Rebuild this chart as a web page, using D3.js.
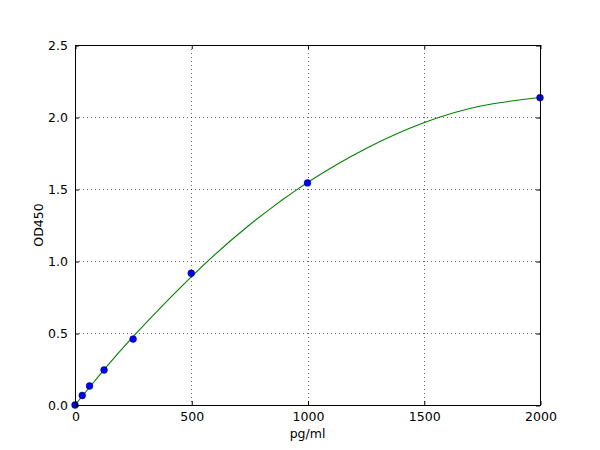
<!DOCTYPE html>
<html><head><meta charset="utf-8">
<script src="https://cdn.jsdelivr.net/npm/d3@7"></script>
<style>body{margin:0;background:#fff}text{font-family:"DejaVu Sans",sans-serif;}</style>
</head><body>
<svg id="c" width="600" height="450"></svg>
<script>
// Standard points
const concentrations = [0, 31.25, 62.5, 125, 250, 500, 1000, 2000];
const odValues = [0.0, 0.066, 0.132, 0.243, 0.458, 0.915, 1.542, 2.134];
// Fitted curve
const curveX = [0, 125, 250, 500, 750, 1000, 1250, 1500, 1750, 2000];
const curveY = [0.0, 0.245, 0.475, 0.89, 1.25, 1.545, 1.78, 1.96, 2.078, 2.135];
const xTicks = [0, 500, 1000, 1500, 2000];
const yTicks = [0.0, 0.5, 1.0, 1.5, 2.0, 2.5];

const svg = d3.select("#c");
const L = 75, R = 540, T = 45, B = 405;
const x = d3.scaleLinear().domain([0, 2000]).range([L, R]);
const y = d3.scaleLinear().domain([0, 2.5]).range([B, T]);

// grid (interior only; the frame covers the edges)
const grid = svg.append("g");
grid.selectAll(".gx").data(xTicks.slice(1, -1)).join("line")
  .attr("x1", d => Math.round(x(d)) + 0.5).attr("x2", d => Math.round(x(d)) + 0.5).attr("y1", T).attr("y2", B)
  .attr("stroke", "#000").attr("stroke-width", 0.6).attr("stroke-dasharray", "1,3");
grid.selectAll(".gy").data(yTicks.slice(1, -1)).join("line")
  .attr("y1", d => Math.round(y(d)) + 0.5).attr("y2", d => Math.round(y(d)) + 0.5).attr("x1", L).attr("x2", R)
  .attr("stroke", "#000").attr("stroke-width", 0.6).attr("stroke-dasharray", "1,3");

// curve
const line = d3.line().x(d => x(d[0])).y(d => y(d[1])).curve(d3.curveNatural);
svg.append("path").datum(curveX.map((v, i) => [v, curveY[i]]))
  .attr("d", line).attr("fill", "none").attr("stroke", "#008000").attr("stroke-width", 1.1);

// points
svg.append("g").selectAll("circle").data(concentrations).join("circle")
  .attr("cx", d => x(d)).attr("cy", (d, i) => y(odValues[i])).attr("r", 3.4)
  .attr("fill", "#0000ff").attr("stroke", "#000033").attr("stroke-width", 0.5);

// axes with inward ticks
const ax = svg.append("g");
ax.append("g").attr("transform", `translate(0.5,${B})`)
  .call(d3.axisBottom(x).tickValues(xTicks).tickSize(-4).tickPadding(7).tickFormat(d3.format("d")));
ax.append("g").attr("transform", `translate(0.5,${T})`)
  .call(d3.axisTop(x).tickValues(xTicks).tickSize(-4).tickFormat(""));
ax.append("g").attr("transform", `translate(${L},0.5)`)
  .call(d3.axisLeft(y).tickValues(yTicks).tickSize(-4).tickPadding(7).tickFormat(d3.format(".1f")));
ax.append("g").attr("transform", `translate(${R},0.5)`)
  .call(d3.axisRight(y).tickValues(yTicks).tickSize(-4).tickFormat(""));
ax.selectAll(".domain").remove();
ax.selectAll("text").attr("font-size", 12.5).attr("fill", "#000").attr("font-family", "DejaVu Sans");
ax.selectAll(".tick line").attr("stroke", "#000");

svg.append("rect").attr("x", L + 0.5).attr("y", T + 0.5).attr("width", R - L).attr("height", B - T)
  .attr("fill", "none").attr("stroke", "#000").attr("stroke-width", 1);

svg.append("text").attr("x", (L + R) / 2).attr("y", 438).attr("text-anchor", "middle")
  .attr("font-size", 12.5).text("pg/ml");
svg.append("text").attr("transform", `translate(43,${(T + B) / 2}) rotate(-90)`)
  .attr("text-anchor", "middle").attr("font-size", 12.5).text("OD450");
</script>
</body></html>
